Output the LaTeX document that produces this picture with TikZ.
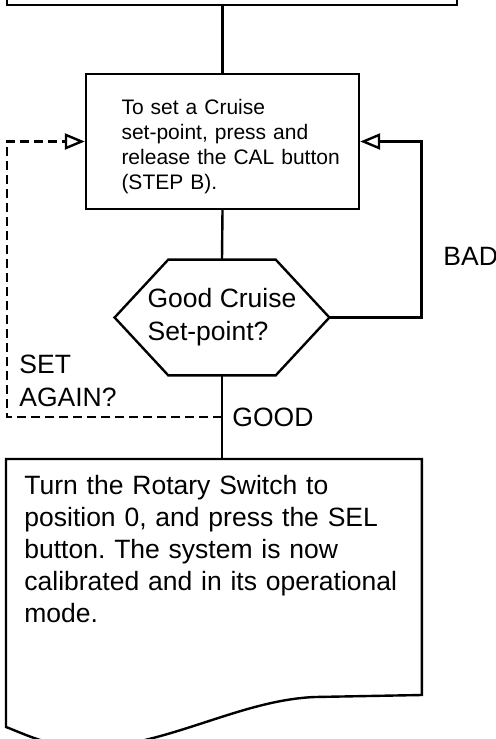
\documentclass[tikz,border=0pt]{standalone}
\usepackage{fontspec}
\setmainfont{Liberation Sans}
\frenchspacing
\usetikzlibrary{arrows.meta,calc,positioning}

\begin{document}
\begin{tikzpicture}
  [x=0.5pt,y=-0.5pt,
   procbox/.style={draw,line width=1.2pt,inner sep=0pt},
   hexbox/.style={inner sep=0pt,minimum width=107pt,minimum height=57.5pt,align=left,font=\fontsize{13.25}{16.5}\selectfont},
   link/.style={line width=1.2pt},
   openhead/.style={-{Triangle[open,length=10pt,width=8pt]}},
   tag/.style={inner sep=0pt,align=left,font=\fontsize{13.25}{16.5}\selectfont}]
  \useasboundingbox (0,0) rectangle (495,739);
  \clip (0,0) rectangle (495,739);

  % boxes
  \node[procbox,minimum width=225pt,minimum height=40pt] (head) at (232,-35) {};
  \node[procbox,minimum width=136.5pt,minimum height=67.5pt,text width=101pt,text height=13pt,align=left,
        font=\fontsize{10.5}{12.5}\selectfont] (cal) at (222.5,141.5)
        {To set a Cruise\\set-point, press and\\\mbox{release the CAL button}\\(STEP B).};
  \node[hexbox] (good) at (222,317.5) {Good Cruise\\Set-point?};
  \draw[link] ($(good.north west)!.25!(good.north east)$) -- ($(good.north west)!.75!(good.north east)$)
     -- (good.east) -- ($(good.south west)!.75!(good.south east)$)
     -- ($(good.south west)!.25!(good.south east)$) -- (good.west) -- cycle;
  \node[tag,anchor=north west,text width=189.5pt,inner xsep=9pt,inner ysep=8pt,
        font=\fontsize{13.25}{16}\selectfont] (done) at (6,459)
        {Turn the Rotary Switch to\\position 0, and press the SEL\\button. The system is now\\calibrated and in its operational\\mode.};
  \draw[link] (done.north west) -- (done.north east) -- ++(0,236) -- (315,697)
     .. controls (240,700) and (170,745) .. (90,748)
     .. controls (50,748) and (20,732) .. (6,727) -- cycle;

  % connectors
  \draw[link] (head.south -| cal.north) -- (cal.north);
  \draw[link] (cal.south) -- (good.north);
  \draw[link] (good.south) -- (good.south |- done.north);
  \coordinate (again) at ($(good.south)!.5!(good.south |- done.north)$);
  \draw[link,openhead] (good.east) -- ++(92,0) |- (cal.east);
  \draw[link,openhead,dash pattern=on 4.5pt off 2.5pt] (again) -- ++(-215,0) |- (cal.west);

  % labels
  \node[tag,anchor=base west] (bad) at (443,265) {BAD};
  \node[tag,right=5pt of again] (goodtag) {GOOD};
  \node[tag,anchor=north west] (setagain) at (19,355) {SET\\AGAIN?};
\end{tikzpicture}
\end{document}
